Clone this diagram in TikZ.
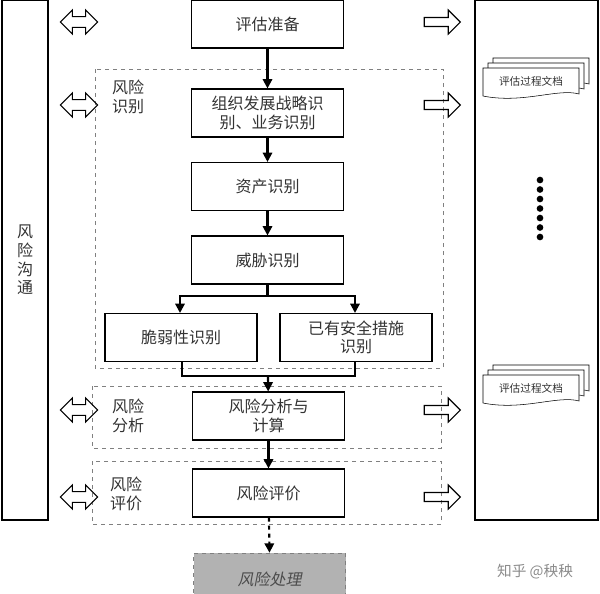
\documentclass[tikz,border=0pt]{standalone}
\usepackage{fontspec}
\setmainfont{Noto Sans CJK SC}
\usetikzlibrary{shapes.arrows,arrows.meta}
\begin{document}
\begin{tikzpicture}[x=0.75pt,y=-0.75pt,
  box/.style={draw,thick,minimum width=114pt,minimum height=36pt,inner sep=0pt,align=center,font=\fontsize{12}{14}\selectfont,text=black!80},
  grp/.style={draw=gray,dashed,thin},
  lab/.style={align=left,font=\fontsize{12}{14}\selectfont,text=black!80},
  con/.style={line width=1.6pt,-{Triangle[length=7pt,width=7pt]}},
  darr/.style={double arrow,draw,thick,minimum height=28pt,minimum width=18pt,double arrow head extend=3pt,inner sep=2pt},
  rarr/.style={single arrow,draw,thick,minimum height=27pt,minimum width=18pt,single arrow head extend=4pt,inner sep=2pt},
  dot/.style={circle,fill=black,inner sep=0pt,minimum size=5pt}]
\useasboundingbox (0,0) rectangle (600,593);
\fill[white] (0,0) rectangle (600,593);
% side boxes
\draw[thick] (2,0) rectangle (48,520);
\node[lab,align=center] (comm) at (25,260) {风\\险\\沟\\通};
\draw[thick] (475,0) rectangle (598,520);
% groups
\draw[grp] (95,69) rectangle (443,368);
\draw[grp] (92,386) rectangle (441,448);
\draw[grp] (92,461) rectangle (441,524);
\node[lab] (g1) at (128,97) {风险\\识别};
\node[lab] (g2) at (128,416) {风险\\分析};
\node[lab] (g3) at (126,494) {风险\\评价};
% boxes
\node[box] (a) at (267.5,24) {评估准备};
\node[box] (b) at (267.5,113) {组织发展战略识\\别、业务识别};
\node[box] (c) at (267.5,186.5) {资产识别};
\node[box] (d) at (267.5,260) {威胁识别};
\node[box] (e) at (181,337.5) {脆弱性识别};
\node[box] (f) at (356,337.5) {已有安全措施\\识别};
\node[box] (g) at (268.5,416) {风险分析与\\计算};
\node[box] (h) at (268.5,493) {风险评价};
\node[box,draw=gray,dashed,thin,fill=black!30,minimum height=45pt,font=\fontsize{12}{14}\selectfont\itshape,text=black!70] (k) at (269.5,583) {\raisebox{6pt}{\fontspec{Noto Sans CJK SC}[FakeSlant=0.2]风险处理}};
% connectors
\draw[con] (a) -- (b);
\draw[con] (b) -- (c);
\draw[con] (c) -- (d);
\coordinate (s) at (267.5,296);
\draw[line width=1.6pt] (d) -- (s);
\draw[con] (s) -| (e.north -| 180,0);
\draw[con] (s) -| (f.north -| 355,0);
\coordinate (m) at (268,376);
\draw[line width=1.6pt] (e.south -| 182,0) |- (m) -| (f.south -| 355,0);
\draw[con] (m) -- (g);
\draw[con] (g) -- (h);
\draw[con,dashed] (h) -- (k.north);
% side arrows
\foreach \y/\n in {22/1,105/2,410/3,497/4}{
  \node[darr] (l\n) at (79,\y) {};
  \node[rarr] (r\n) at (440,\y) {};
}
% documents
\foreach \y/\n in {68/1,375/2}{
  \begin{scope}[shift={(483,\y)}]
  \foreach \o in {10,5,0}{
    \draw[fill=white] (\o,-\o) -- (\o+96,-\o) -- (\o+96,26-\o) .. controls (\o+75,20-\o) and (\o+40,36-\o) .. (\o,28-\o) -- cycle;
  }
  \node[font=\fontsize{8}{9}\selectfont,text=black!80] (doc\n) at (48,13) {评估过程文档};
  \end{scope}
}
\foreach \i in {0,...,6} \node[dot] (p\i) at (540,180+\i*9.5) {};
\node[font=\fontsize{11}{12}\selectfont,text=white!55!black] (wm) at (535,572) {知乎 @秧秧};
\end{tikzpicture}
\end{document}
